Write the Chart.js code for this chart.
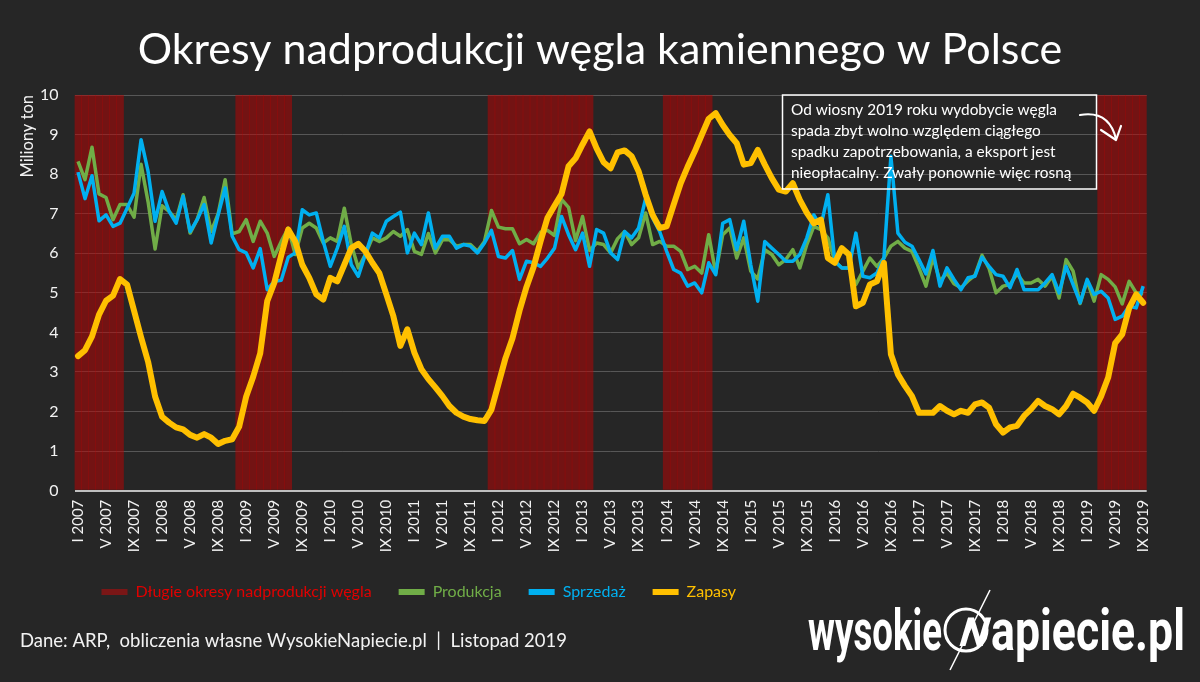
<!DOCTYPE html>
<html lang="pl">
<head>
<meta charset="utf-8">
<title>Okresy nadprodukcji węgla kamiennego w Polsce</title>
<script src="https://cdn.jsdelivr.net/npm/chart.js@4.4.1/dist/chart.umd.min.js"></script>
<style>
  html, body { margin: 0; padding: 0; background: #262626; }
  #wrap { width: 1200px; height: 682px; }
</style>
</head>
<body>
<div id="wrap"><canvas id="myChart" width="1200" height="682"></canvas></div>
<script>
// months I..XII, data from I 2007 to IX 2019
const romanMonths = ["I", "II", "III", "IV", "V", "VI", "VII", "VIII", "IX", "X", "XI", "XII"];
const years = [2007, 2008, 2009, 2010, 2011, 2012, 2013, 2014, 2015, 2016, 2017, 2018, 2019];
const lastMonth = "IX 2019";

// mln ton
const produkcja = [
  8.32, 7.86, 8.68, 7.50, 7.41, 6.85, 7.23, 7.23, 6.91, 8.25, 7.30, 6.11,
  7.20, 7.06, 6.85, 7.48, 6.51, 6.85, 7.41, 6.55, 7.00, 7.86, 6.49, 6.55,
  6.85, 6.30, 6.81, 6.51, 5.92, 6.30, 6.64, 5.97, 6.64, 6.76, 6.64, 6.26,
  6.39, 6.30, 7.14, 6.22, 5.63, 5.97, 6.39, 6.30, 6.39, 6.55, 6.43, 6.60,
  6.05, 5.97, 6.50, 6.01, 6.34, 6.34, 6.18, 6.22, 6.22, 6.05, 6.30, 7.08,
  6.66, 6.62, 6.62, 6.24, 6.35, 6.24, 6.53, 6.58, 6.45, 7.36, 7.16, 6.32,
  6.93, 6.07, 6.26, 6.22, 6.01, 6.37, 6.55, 6.22, 6.39, 7.02, 6.22, 6.30,
  6.18, 6.18, 6.05, 5.59, 5.67, 5.50, 6.47, 5.50, 6.47, 6.64, 5.88, 6.39,
  5.55, 5.35, 6.09, 5.97, 5.71, 5.84, 6.09, 5.63, 6.22, 6.68, 6.60, 6.39,
  5.80, 5.63, 5.63, 5.21, 5.55, 5.88, 5.67, 5.88, 6.18, 6.30, 6.13, 6.05,
  5.63, 5.17, 5.90, 5.30, 5.50, 5.23, 5.13, 5.30, 5.45, 5.95, 5.62, 5.00,
  5.17, 5.21, 5.48, 5.25, 5.25, 5.34, 5.17, 5.42, 4.87, 5.84, 5.55, 4.73,
  5.30, 4.79, 5.46, 5.34, 5.15, 4.72, 5.29, 5.00, 4.98
];
const sprzedaz = [
  8.05, 7.38, 7.96, 6.82, 6.97, 6.68, 6.76, 7.14, 7.52, 8.87, 8.07, 6.81,
  7.56, 7.06, 6.76, 7.44, 6.55, 6.85, 7.23, 6.26, 6.97, 7.65, 6.43, 6.09,
  6.01, 5.63, 6.12, 5.08, 5.29, 5.32, 5.90, 6.01, 7.10, 6.97, 7.02, 6.30,
  5.67, 6.13, 6.68, 5.71, 5.42, 5.97, 6.51, 6.39, 6.81, 6.93, 7.04, 6.01,
  6.51, 6.22, 7.02, 6.13, 6.43, 6.43, 6.13, 6.22, 6.18, 6.01, 6.26, 6.58,
  5.92, 5.88, 6.07, 5.34, 5.80, 5.76, 5.67, 5.88, 6.13, 6.93, 6.47, 6.09,
  6.51, 5.67, 6.60, 6.51, 6.01, 5.84, 6.55, 6.39, 6.64, 7.39, 6.89, 6.55,
  6.05, 5.59, 5.50, 5.17, 5.25, 5.00, 5.76, 5.46, 6.76, 6.85, 6.09, 6.81,
  5.71, 4.79, 6.30, 6.13, 5.97, 5.80, 5.80, 5.97, 6.39, 6.97, 6.68, 7.48,
  5.80, 5.63, 5.63, 6.51, 5.42, 5.38, 5.50, 5.88, 8.45, 6.51, 6.28, 6.18,
  5.84, 5.48, 6.07, 5.17, 5.63, 5.34, 5.08, 5.38, 5.42, 5.90, 5.67, 5.46,
  5.42, 5.13, 5.59, 5.08, 5.08, 5.08, 5.25, 5.46, 5.00, 5.67, 5.21, 4.75,
  5.34, 4.96, 5.04, 4.87, 4.33, 4.41, 4.66, 4.62, 5.17
];
const zapasy = [
  3.40, 3.55, 3.90, 4.45, 4.80, 4.93, 5.35, 5.21, 4.55, 3.88, 3.26, 2.38,
  1.87, 1.72, 1.60, 1.55, 1.41, 1.34, 1.43, 1.34, 1.18, 1.26, 1.30, 1.62,
  2.38, 2.88, 3.47, 4.79, 5.25, 5.95, 6.60, 6.30, 5.71, 5.38, 4.96, 4.83,
  5.38, 5.29, 5.71, 6.13, 6.24, 6.05, 5.76, 5.50, 4.96, 4.41, 3.66, 4.08,
  3.49, 3.07, 2.82, 2.61, 2.39, 2.14, 1.97, 1.87, 1.81, 1.78, 1.76, 2.05,
  2.70, 3.35, 3.85, 4.55, 5.15, 5.65, 6.30, 6.90, 7.20, 7.50, 8.20, 8.40,
  8.75, 9.08, 8.65, 8.30, 8.15, 8.55, 8.60, 8.45, 8.07, 7.48, 6.97, 6.64,
  6.68, 7.23, 7.77, 8.19, 8.57, 8.99, 9.40, 9.54, 9.24, 8.99, 8.78, 8.24,
  8.28, 8.61, 8.24, 7.90, 7.61, 7.56, 7.77, 7.35, 7.02, 6.76, 6.85, 5.88,
  5.76, 6.13, 5.97, 4.66, 4.75, 5.21, 5.29, 5.76, 3.45, 2.94, 2.65, 2.39,
  1.97, 1.97, 1.97, 2.14, 2.02, 1.93, 2.02, 1.97, 2.18, 2.23, 2.10, 1.68,
  1.47, 1.60, 1.64, 1.89, 2.06, 2.27, 2.14, 2.06, 1.93, 2.14, 2.45, 2.35,
  2.23, 2.02, 2.39, 2.86, 3.73, 3.95, 4.62, 4.96, 4.75
];

// long overproduction periods (first and last month)
const overproductionPeriods = [
  ["I 2007", "VII 2007"],
  ["XII 2008", "VII 2009"],
  ["XII 2011", "II 2013"],
  ["I 2014", "VII 2014"],
  ["III 2019", "IX 2019"]
];

const yTicks = [0, 1, 2, 3, 4, 5, 6, 7, 8, 9, 10];

const noteLines = [
  "Od wiosny 2019 roku wydobycie węgla",
  "spada zbyt wolno względem ciągłego",
  "spadku zapotrzebowania, a eksport jest",
  "nieopłacalny. Zwały ponownie więc rosną"
];
const footerText = "Dane: ARP,  obliczenia własne WysokieNapiecie.pl  |  Listopad 2019";

// build categories
let labels = [];
years.forEach((y) => {
  romanMonths.forEach((m) => {
    if (labels[labels.length - 1] !== lastMonth) labels.push(`${m} ${y}`);
  });
});

let bandData = labels.map(() => null);
overproductionPeriods.forEach((p) => {
  let a = labels.indexOf(p[0]),
    b = labels.indexOf(p[1]);
  for (let i = a; i <= b; i++) bandData[i] = yTicks[yTicks.length - 1];
});

const legendTextColors = ["#e00000", "#70ad47", "#00b0f0", "#ffc000"];

const extras = {
  id: "extras",
  afterDatasetsDraw(chart) {
    const ctx = chart.ctx;
    const top = chart.chartArea.top;
    ctx.save();
    ctx.strokeStyle = "#ffffff";
    ctx.lineWidth = 1.5;
    ctx.strokeRect(782.5, top, 314, 94);
    ctx.fillStyle = "#ffffff";
    ctx.font = "15.4px Lato";
    ctx.textBaseline = "middle";
    noteLines.forEach((t, i) => ctx.fillText(t, 791, top + 15 + i * 21));

    // arrow
    ctx.lineWidth = 2.2;
    ctx.lineCap = "round";
    ctx.lineJoin = "round";
    ctx.beginPath();
    ctx.moveTo(1080, 115);
    ctx.quadraticCurveTo(1109, 110, 1116, 139);
    ctx.stroke();
    ctx.beginPath();
    ctx.moveTo(1101, 130);
    ctx.lineTo(1116, 140);
    ctx.lineTo(1121, 126);
    ctx.stroke();
    ctx.restore();
  },
  afterDraw(chart) {
    const ctx = chart.ctx;
    ctx.save();
    ctx.fillStyle = "#f2f2f2";
    ctx.font = "18.5px Lato";
    ctx.textBaseline = "middle";
    ctx.fillText(footerText, 20, 641);

    // logo
    ctx.fillStyle = "#ffffff";
    ctx.strokeStyle = "#ffffff";
    ctx.font = "bold 58px Roboto";
    ctx.textBaseline = "alphabetic";
    const word = (t, x, w) => {
      const s = w / ctx.measureText(t).width;
      ctx.save();
      ctx.translate(x, 650);
      ctx.scale(s, 1);
      ctx.fillText(t, 0, 0);
      ctx.restore();
    };
    word("wysokie", 808, 134);
    word("apiecie.pl", 991, 194);
    ctx.lineWidth = 3;
    ctx.beginPath();
    ctx.arc(966, 630, 21, 0, Math.PI * 2);
    ctx.stroke();
    ctx.save();
    ctx.translate(966, 650);
    ctx.transform(1, 0, -0.3, 1, 0, 0);
    ctx.font = "bold 40px Roboto";
    ctx.textAlign = "center";
    ctx.fillText("N", 4, -4);
    ctx.restore();
    ctx.lineWidth = 1.5;
    ctx.beginPath();
    ctx.moveTo(950, 670);
    ctx.lineTo(990, 590);
    ctx.stroke();
    ctx.restore();
  }
};

Chart.defaults.font.family = "Lato, 'Open Sans', sans-serif";
Chart.defaults.color = "#f2f2f2";

let canvas = document.getElementById("myChart").getContext("2d");
let myChart = new Chart(canvas, {
  data: {
    labels: labels,
    datasets: [
      {
        type: "bar",
        label: "Długie okresy nadprodukcji węgla",
        data: bandData,
        backgroundColor: "rgba(192, 0, 0, 0.5)",
        legendColor: "#7a1616",
        borderWidth: 0,
        barPercentage: 1.08,
        categoryPercentage: 1,
        order: 4,
      },
      {
        type: "line",
        label: "Produkcja",
        data: produkcja,
        borderColor: "#70ad47",
        borderWidth: 3.5,
        pointRadius: 0,
        tension: 0,
        borderJoinStyle: "round",
        order: 3,
      },
      {
        type: "line",
        label: "Sprzedaż",
        data: sprzedaz,
        borderColor: "#00b0f0",
        borderWidth: 3.5,
        pointRadius: 0,
        tension: 0,
        borderJoinStyle: "round",
        order: 2,
      },
      {
        type: "line",
        label: "Zapasy",
        data: zapasy,
        borderColor: "#ffc000",
        borderWidth: 6,
        pointRadius: 0,
        tension: 0,
        borderJoinStyle: "round",
        borderCapStyle: "round",
        order: 1,
      },
    ],
  },
  options: {
    responsive: false,
    animation: false,
    devicePixelRatio: 1,
    layout: { padding: { left: 0, right: 0, top: 0, bottom: 72 } },
    plugins: {
      tooltip: { enabled: false },
      title: {
        display: true,
        text: "Okresy nadprodukcji węgla kamiennego w Polsce",
        color: "#ffffff",
        font: { size: 43, weight: "normal" },
        padding: { top: 24, bottom: 19.4 },
      },
      legend: {
        position: "bottom",
        fullSize: false,
        align: "start",
        onClick: null,
        labels: {
          boxWidth: 26,
          boxHeight: 6,
          padding: 27,
          font: { size: 16 },
          generateLabels: (chart) =>
            chart.data.datasets.map((ds, i) => ({
              text: ds.label,
              fillStyle: ds.legendColor || ds.borderColor,
              strokeStyle: ds.legendColor || ds.borderColor,
              lineWidth: 0,
              fontColor: legendTextColors[i],
              hidden: false,
              datasetIndex: i,
            })),
        },
      },
    },
    scales: {
      x: {
        offset: true,
        grid: { display: false, drawTicks: false },
        border: { display: false },
        ticks: {
          autoSkip: false,
          maxRotation: 90,
          minRotation: 90,
          padding: 9,
          color: "#f2f2f2",
          font: { size: 15 },
          callback: function (val, idx) {
            return idx % 4 === 0 ? this.getLabelForValue(val) : null;
          },
        },
        afterFit: (scale) => {
          scale.height = 66.3;
        },
      },
      y: {
        min: yTicks[0],
        max: yTicks[yTicks.length - 1],
        grid: {
          drawTicks: false,
          color: (c) => (c.tick && c.tick.value === 0 ? "#bfbfbf" : "#575757"),
          lineWidth: (c) => (c.tick && c.tick.value === 0 ? 2 : 1),
        },
        border: { display: false },
        ticks: {
          stepSize: 1,
          padding: 16,
          color: "#f2f2f2",
          font: { size: 16 },
        },
        title: {
          display: true,
          text: "Miliony ton",
          align: "end",
          color: "#f2f2f2",
          font: { size: 16.5 },
          padding: { top: 18, bottom: 0 },
        },
        afterFit: (scale) => {
          scale.width = 74.5;
        },
      },
      yRight: {
        position: "right",
        grid: { display: false, drawTicks: false },
        border: { display: false },
        ticks: { display: false },
        afterFit: (scale) => {
          scale.width = 53.3;
        },
      },
    },
  },
  plugins: [extras],
});
</script>
</body>
</html>
